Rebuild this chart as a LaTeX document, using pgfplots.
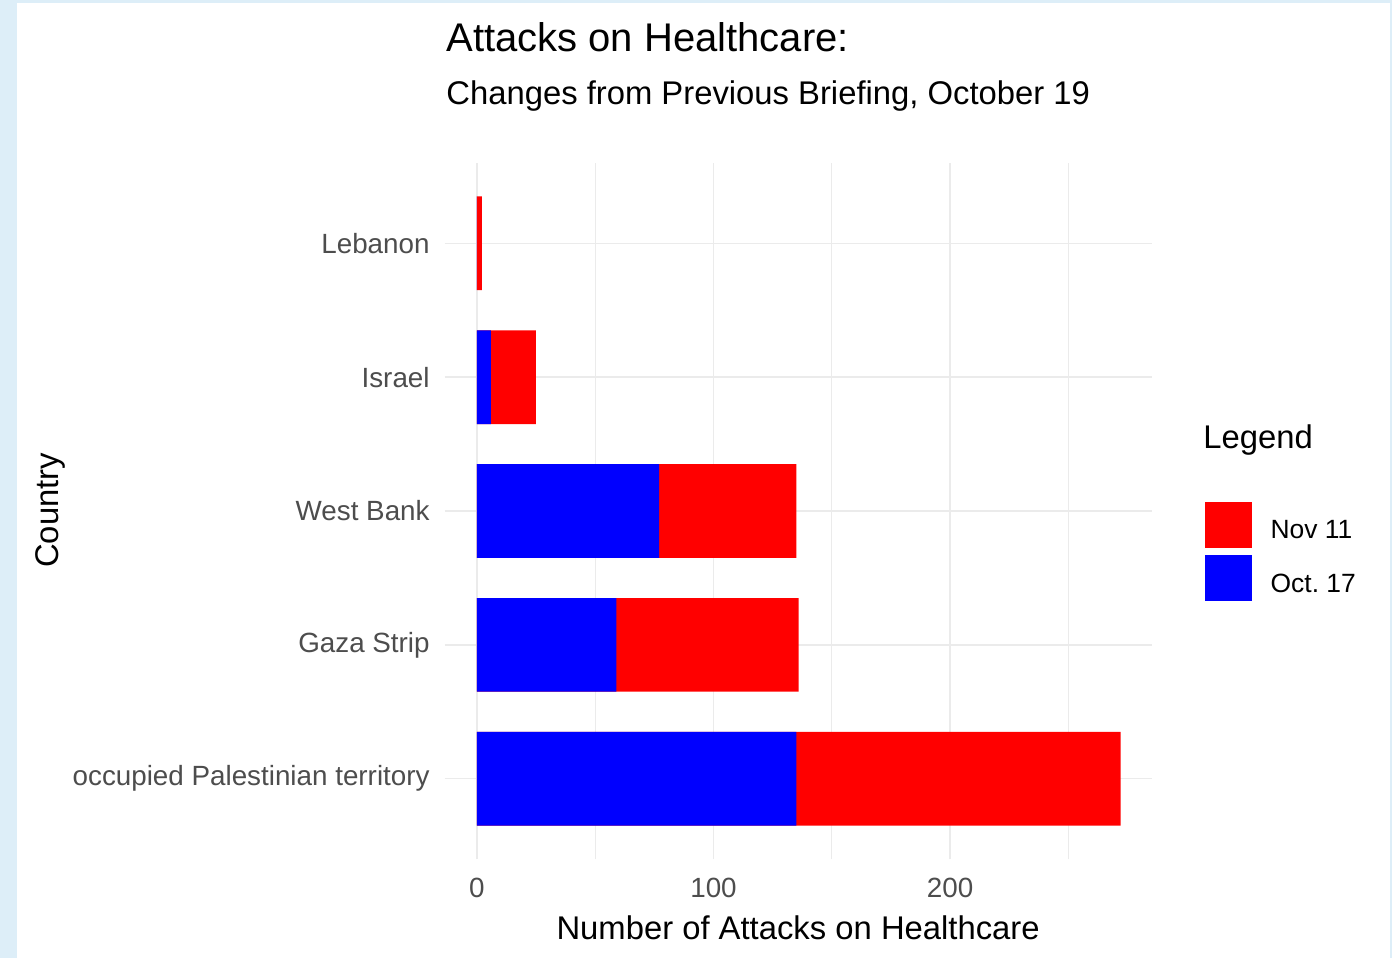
\documentclass[border=0pt]{standalone}
\usepackage{fontspec}
\setmainfont{Liberation Sans}
\usepackage{pgfplots}
\pgfplotsset{compat=1.18}
\definecolor{bgblue}{HTML}{DDEEF8}
\definecolor{gridgray}{HTML}{EBEBEB}
\definecolor{ticktxt}{HTML}{4D4D4D}
\begin{document}
\begin{tikzpicture}
\fill[bgblue] (0pt,0pt) rectangle (696pt,-479pt);
\fill[white] (8.5pt,-1.5pt) rectangle (695pt,-479pt);
\begin{axis}[
  at={(222.3pt,-81.5pt)}, anchor=north west,
  scale only axis, width=353.5pt, height=348pt,
  xmin=-13.6, xmax=285.1, ymin=0.4, ymax=5.6,
  xtick={0,100,200}, minor xtick={50,150,250},
  ytick={1,2,3,4,5},
  yticklabels={occupied Palestinian territory, Gaza Strip, West Bank, Israel, Lebanon},
  /pgf/number format/assume math mode=true,
  grid=both,
  major grid style={draw=gridgray, line width=0.8pt},
  minor grid style={draw=gridgray, line width=0.45pt},
  axis line style={draw=none},
  major tick length=0pt, minor tick length=0pt,
  tick label style={font=\fontsize{13.9}{16}\selectfont, text=ticktxt},
  yticklabel style={inner sep=0pt, xshift=-7.3pt},
  xticklabel style={inner sep=0pt, yshift=-9.5pt},
  xlabel={Number of Attacks on Healthcare},
  ylabel={Country},
  xlabel style={at={(axis description cs:0.5,-0.116)}, anchor=base, font=\fontsize{16.4}{19}\selectfont, inner sep=0pt},
  ylabel style={at={(axis description cs:-0.557,0.501)}, anchor=center, font=\fontsize{16.4}{19}\selectfont, inner sep=0pt},
  legend style={at={(axis description cs:1.0745,0.513)}, anchor=north west, draw=none, fill=none, inner sep=0pt, row sep=3.5pt,
     font=\fontsize{13.2}{16}\selectfont, nodes={inner sep=0pt}},
  legend cell align=left,
  legend image code/.code={\fill[#1] (0pt,-8.5pt) rectangle (23.5pt,14.5pt); \path (33pt,0pt);},
]
\addplot[xbar, fill=red, draw=none, bar width=0.7, bar shift=0pt] coordinates {(272,1) (136,2) (135,3) (25,4) (2.2,5)};
\addlegendentry{Nov 11}
\addplot[xbar, fill=blue, draw=none, bar width=0.7, bar shift=0pt] coordinates {(135,1) (59,2) (77,3) (6,4) (0,5)};
\addlegendentry{Oct.\ 17}
\end{axis}
\node[anchor=base west, inner sep=0pt, font=\fontsize{20}{24}\selectfont] at (223pt,-25.7pt) {Attacks on Healthcare:};
\node[anchor=base west, inner sep=0pt, font=\fontsize{16.4}{19}\selectfont] at (223pt,-52pt) {Changes from Previous Briefing, October 19};
\node[anchor=base west, inner sep=0pt, font=\fontsize{16.4}{19}\selectfont] at (601.5pt,-224pt) {Legend};
\end{tikzpicture}
\end{document}
